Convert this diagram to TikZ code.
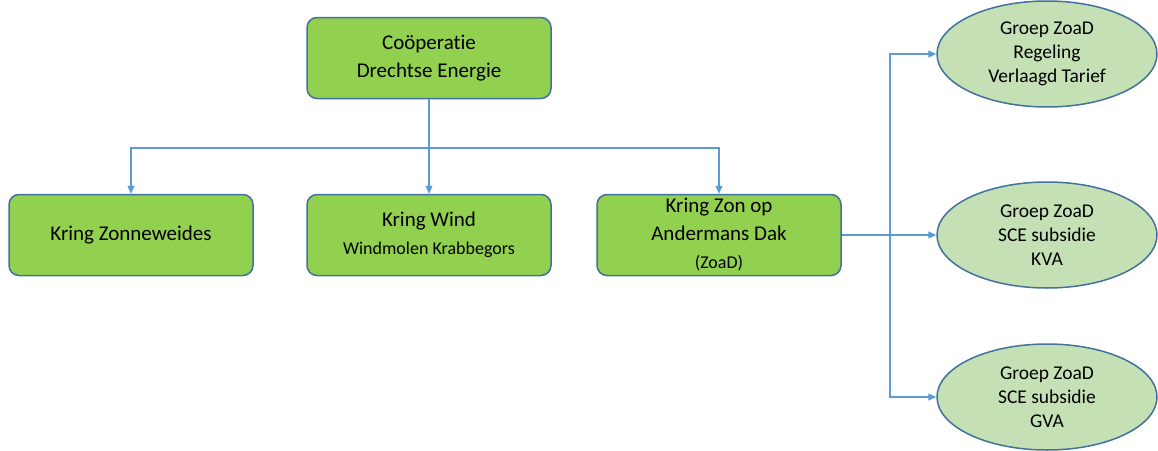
\documentclass[tikz,border=0pt]{standalone}
\usepackage{fontspec}
\setmainfont[Ligatures=NoCommon]{Carlito}
\usetikzlibrary{shapes.geometric,arrows.meta}
\definecolor{kringgreen}{HTML}{92D050}
\definecolor{groepgreen}{HTML}{C5E0B4}
\definecolor{randblue}{HTML}{41719C}
\definecolor{lijnblue}{HTML}{5B9BD5}
\begin{document}
\begin{tikzpicture}[x=1pt,y=-1pt,
    kring/.style={draw=randblue,fill=kringgreen,line width=1.5pt,rounded corners=10pt,inner sep=2pt,
      minimum width=244pt,minimum height=81pt,align=center,font=\fontsize{21}{28}\selectfont},
    groep/.style={ellipse,draw=randblue,fill=groepgreen,line width=1.5pt,inner sep=0pt,
      minimum width=220pt,minimum height=106pt,align=center,font=\fontsize{19.5}{24}\selectfont},
    link/.style={draw=lijnblue,line width=1.1pt,-{Triangle[length=8pt,width=7pt]}}]
\useasboundingbox (0,0) rectangle (1158,450);
\node (coop) [kring] at (429,58) {Coöperatie\\Drechtse Energie};
\node (zonneweides) [kring] at (131,235) {Kring Zonneweides};
\node (wind) [kring] at (429,235) {Kring Wind\\{\fontsize{18}{22}\selectfont Windmolen Krabbegors}};
\node (zoad) [kring] at (719,235) {Kring Zon op\\Andermans Dak\\{\fontsize{18}{22}\selectfont (ZoaD)}};
\node (verlaagd) [groep] at (1047,54) {Groep ZoaD\\Regeling\\Verlaagd Tarief};
\node (kva) [groep] at (1047,235) {Groep ZoaD\\SCE subsidie\\KVA};
\node (gva) [groep] at (1047,397) {Groep ZoaD\\SCE subsidie\\GVA};
\coordinate (split) at (429,148);
\coordinate (fork) at (890,235);
\draw[link] (coop) -- (wind);
\draw[link] (split) -| (zonneweides);
\draw[link] (split) -| (zoad);
\draw[link] (zoad) -- (kva);
\draw[link] (fork) |- (verlaagd);
\draw[link] (fork) |- (gva);
\end{tikzpicture}
\end{document}
